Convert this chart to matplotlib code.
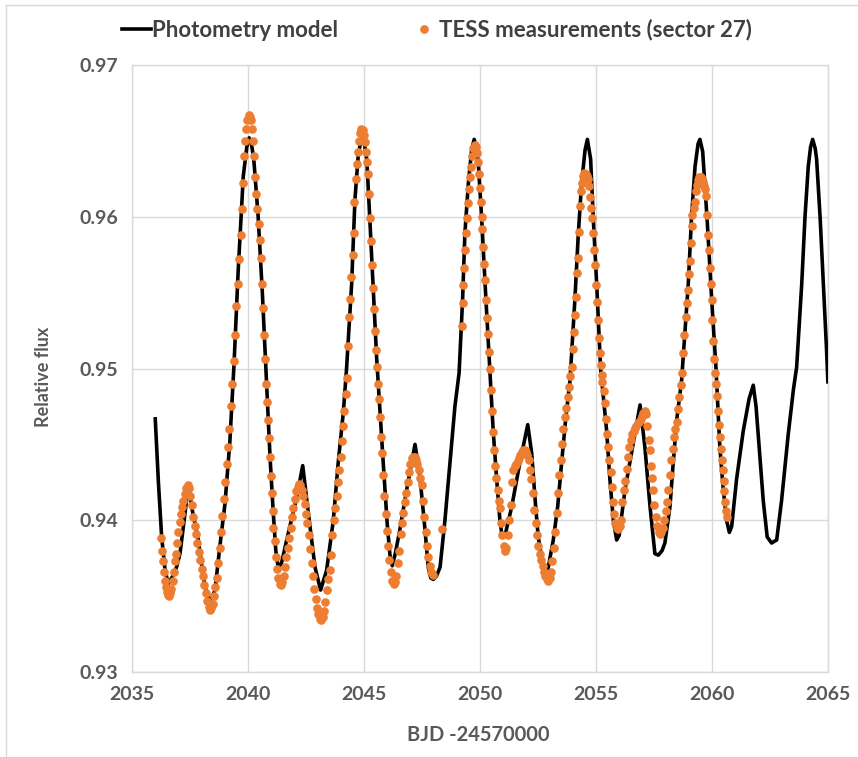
import matplotlib
matplotlib.use("Agg")
import matplotlib.pyplot as plt
from matplotlib.lines import Line2D

plt.rcParams['font.family'] = ['Lato', 'DejaVu Sans']
plt.rcParams['font.weight'] = 'bold'

# photometry model (black curve)
model_t = [2036.00, 2036.14, 2036.28, 2036.42, 2036.56, 2036.75, 2036.92, 2037.07,
           2037.25, 2037.43, 2037.62, 2037.86, 2038.00, 2038.15, 2038.33, 2038.45,
           2038.58, 2038.79, 2039.01, 2039.22, 2039.40, 2039.58, 2039.80, 2039.95,
           2040.05, 2040.15, 2040.25, 2040.44, 2040.62, 2040.79, 2040.95, 2041.09,
           2041.20, 2041.31, 2041.45, 2041.67, 2042.10, 2042.36, 2042.60, 2042.89,
           2043.13, 2043.39, 2043.68, 2043.89, 2044.11, 2044.25, 2044.47, 2044.61,
           2044.75, 2044.85, 2044.93, 2045.02, 2045.12, 2045.26, 2045.40, 2045.55,
           2045.83, 2046.00, 2046.12, 2046.22, 2046.35, 2046.55, 2046.84, 2047.20,
           2047.41, 2047.63, 2047.77, 2047.88, 2047.99, 2048.12, 2048.28, 2048.49,
           2048.71, 2048.92, 2049.10, 2049.25, 2049.35, 2049.50, 2049.64, 2049.75,
           2049.85, 2049.93, 2050.07, 2050.22, 2050.40, 2050.57, 2050.72, 2050.86,
           2050.96, 2051.08, 2051.37, 2051.72, 2052.06, 2052.23, 2052.37, 2052.51,
           2052.73, 2052.92, 2053.16, 2053.35, 2053.52, 2053.69, 2053.88, 2054.09,
           2054.24, 2054.38, 2054.53, 2054.63, 2054.77, 2054.88, 2055.03, 2055.20,
           2055.46, 2055.60, 2055.75, 2055.89, 2056.00, 2056.25, 2056.61, 2056.90,
           2057.11, 2057.33, 2057.54, 2057.69, 2057.85, 2057.97, 2058.19, 2058.33,
           2058.48, 2058.69, 2058.98, 2059.12, 2059.27, 2059.40, 2059.48, 2059.60,
           2059.80, 2059.99, 2060.17, 2060.34, 2060.49, 2060.63, 2060.75, 2060.85,
           2061.06, 2061.35, 2061.60, 2061.78, 2061.90, 2061.99, 2062.21, 2062.38,
           2062.57, 2062.79, 2063.00, 2063.29, 2063.51, 2063.65, 2063.87, 2064.01,
           2064.15, 2064.25, 2064.34, 2064.45, 2064.51, 2064.66, 2064.80, 2064.94,
           2065.00]
model_f = [0.9468, 0.9425, 0.9389, 0.9368, 0.9358, 0.9363, 0.9369, 0.9378,
           0.9400, 0.9423, 0.9405, 0.9387, 0.9371, 0.9356, 0.9347, 0.9349,
           0.9354, 0.9383, 0.9411, 0.9452, 0.9503, 0.9565, 0.9627, 0.9646,
           0.9652, 0.9648, 0.9638, 0.9600, 0.9550, 0.9495, 0.9442, 0.9405,
           0.9380, 0.9368, 0.9372, 0.9387, 0.9415, 0.9436, 0.9405, 0.9369,
           0.9354, 0.9367, 0.9400, 0.9438, 0.9471, 0.9500, 0.9556, 0.9611,
           0.9640, 0.9649, 0.9652, 0.9648, 0.9638, 0.9596, 0.9552, 0.9506,
           0.9438, 0.9398, 0.9377, 0.9370, 0.9378, 0.9394, 0.9420, 0.9450,
           0.9429, 0.9394, 0.9369, 0.9362, 0.9361, 0.9363, 0.9369, 0.9400,
           0.9438, 0.9475, 0.9497, 0.9545, 0.9589, 0.9622, 0.9644, 0.9651,
           0.9646, 0.9635, 0.9600, 0.9556, 0.9506, 0.9459, 0.9427, 0.9400,
           0.9389, 0.9390, 0.9409, 0.9438, 0.9463, 0.9444, 0.9415, 0.9389,
           0.9369, 0.9367, 0.9387, 0.9409, 0.9438, 0.9466, 0.9492, 0.9545,
           0.9589, 0.9622, 0.9644, 0.9651, 0.9638, 0.9600, 0.9556, 0.9500,
           0.9459, 0.9427, 0.9400, 0.9387, 0.9390, 0.9420, 0.9451, 0.9476,
           0.9448, 0.9409, 0.9378, 0.9377, 0.9380, 0.9385, 0.9409, 0.9438,
           0.9466, 0.9492, 0.9556, 0.9600, 0.9633, 0.9648, 0.9651, 0.9643,
           0.9596, 0.9545, 0.9501, 0.9448, 0.9420, 0.9400, 0.9392, 0.9396,
           0.9427, 0.9459, 0.9480, 0.9489, 0.9475, 0.9457, 0.9413, 0.9389,
           0.9385, 0.9387, 0.9413, 0.9457, 0.9486, 0.9501, 0.9556, 0.9600,
           0.9633, 0.9646, 0.9651, 0.9645, 0.9638, 0.9600, 0.9556, 0.9512,
           0.9490]

# TESS sector 27 measurements (orange dots), first orbit
tess_t1 = [2036.26, 2036.30, 2036.34, 2036.38, 2036.42, 2036.46, 2036.50, 2036.55,
           2036.60, 2036.65, 2036.70, 2036.75, 2036.80, 2036.85, 2036.90, 2036.95,
           2037.00, 2037.05, 2037.10, 2037.16, 2037.22, 2037.28, 2037.34, 2037.40,
           2037.46, 2037.52, 2037.58, 2037.64, 2037.70, 2037.76, 2037.82, 2037.88,
           2037.94, 2038.00, 2038.06, 2038.12, 2038.18, 2038.24, 2038.30, 2038.36,
           2038.42, 2038.48, 2038.54, 2038.60, 2038.66, 2038.72, 2038.78, 2038.84,
           2038.90, 2038.96, 2039.02, 2039.08, 2039.14, 2039.20, 2039.26, 2039.32,
           2039.38, 2039.44, 2039.50, 2039.56, 2039.62, 2039.68, 2039.74, 2039.78,
           2039.83, 2039.88, 2039.93, 2039.98, 2040.03, 2040.07, 2040.11, 2040.16,
           2040.21, 2040.26, 2040.31, 2040.36, 2040.41, 2040.46, 2040.51, 2040.56,
           2040.61, 2040.65, 2040.69, 2040.73, 2040.76, 2040.80, 2040.85, 2040.89,
           2040.94, 2040.98, 2041.02, 2041.06, 2041.10, 2041.15, 2041.20, 2041.25,
           2041.30, 2041.36, 2041.42, 2041.48, 2041.54, 2041.60, 2041.66, 2041.72,
           2041.78, 2041.84, 2041.90, 2041.96, 2042.02, 2042.08, 2042.14, 2042.20,
           2042.26, 2042.32, 2042.38, 2042.44, 2042.50, 2042.56, 2042.62, 2042.68,
           2042.74, 2042.80, 2042.86, 2042.92, 2042.98, 2043.04, 2043.10, 2043.16,
           2043.22, 2043.28, 2043.34, 2043.40, 2043.46, 2043.52, 2043.58, 2043.64,
           2043.70, 2043.76, 2043.82, 2043.88, 2043.94, 2044.00, 2044.06, 2044.11,
           2044.16, 2044.21, 2044.26, 2044.31, 2044.36, 2044.41, 2044.46, 2044.51,
           2044.55, 2044.59, 2044.64, 2044.69, 2044.74, 2044.79, 2044.84, 2044.89,
           2044.94, 2044.99, 2045.04, 2045.08, 2045.13, 2045.18, 2045.22, 2045.26,
           2045.30, 2045.34, 2045.38, 2045.43, 2045.48, 2045.53, 2045.58, 2045.62,
           2045.66, 2045.70, 2045.74, 2045.78, 2045.83, 2045.88, 2045.93, 2045.98,
           2046.04, 2046.10, 2046.16, 2046.22, 2046.28, 2046.34, 2046.40, 2046.46,
           2046.52, 2046.58, 2046.64, 2046.70, 2046.76, 2046.82, 2046.88, 2046.94,
           2047.00, 2047.06, 2047.12, 2047.18, 2047.24, 2047.30, 2047.36, 2047.42,
           2047.48, 2047.54, 2047.60, 2047.66, 2047.72, 2047.78, 2047.84, 2047.90,
           2047.96, 2048.35]
tess_f1 = [0.9388, 0.9380, 0.9373, 0.9366, 0.9360, 0.9356, 0.9353, 0.9351,
           0.9350, 0.9352, 0.9355, 0.9360, 0.9366, 0.9373, 0.9378, 0.9385,
           0.9392, 0.9399, 0.9404, 0.9409, 0.9413, 0.9417, 0.9421, 0.9423,
           0.9421, 0.9416, 0.9410, 0.9402, 0.9396, 0.9391, 0.9385, 0.9379,
           0.9374, 0.9368, 0.9363, 0.9357, 0.9352, 0.9347, 0.9343, 0.9341,
           0.9342, 0.9345, 0.9350, 0.9356, 0.9362, 0.9372, 0.9382, 0.9392,
           0.9403, 0.9414, 0.9425, 0.9437, 0.9448, 0.9460, 0.9475, 0.9490,
           0.9505, 0.9522, 0.9541, 0.9556, 0.9572, 0.9588, 0.9605, 0.9622,
           0.9640, 0.9650, 0.9658, 0.9664, 0.9667, 0.9666, 0.9664, 0.9658,
           0.9650, 0.9640, 0.9626, 0.9615, 0.9605, 0.9595, 0.9585, 0.9573,
           0.9556, 0.9540, 0.9522, 0.9506, 0.9490, 0.9478, 0.9466, 0.9454,
           0.9442, 0.9429, 0.9418, 0.9406, 0.9395, 0.9386, 0.9376, 0.9368,
           0.9362, 0.9358, 0.9357, 0.9359, 0.9363, 0.9369, 0.9376, 0.9382,
           0.9388, 0.9395, 0.9402, 0.9408, 0.9414, 0.9419, 0.9422, 0.9424,
           0.9423, 0.9420, 0.9416, 0.9411, 0.9404, 0.9398, 0.9390, 0.9381,
           0.9372, 0.9363, 0.9355, 0.9348, 0.9342, 0.9338, 0.9335, 0.9334,
           0.9336, 0.9340, 0.9346, 0.9354, 0.9361, 0.9367, 0.9377, 0.9390,
           0.9400, 0.9408, 0.9416, 0.9425, 0.9433, 0.9442, 0.9452, 0.9462,
           0.9472, 0.9483, 0.9494, 0.9515, 0.9534, 0.9546, 0.9560, 0.9575,
           0.9589, 0.9610, 0.9625, 0.9635, 0.9643, 0.9650, 0.9655, 0.9658,
           0.9657, 0.9654, 0.9649, 0.9643, 0.9636, 0.9628, 0.9615, 0.9599,
           0.9584, 0.9568, 0.9553, 0.9539, 0.9525, 0.9512, 0.9501, 0.9490,
           0.9480, 0.9468, 0.9455, 0.9444, 0.9430, 0.9416, 0.9404, 0.9393,
           0.9383, 0.9374, 0.9366, 0.9360, 0.9358, 0.9359, 0.9363, 0.9372,
           0.9380, 0.9391, 0.9398, 0.9405, 0.9412, 0.9418, 0.9425, 0.9432,
           0.9437, 0.9441, 0.9442, 0.9442, 0.9440, 0.9437, 0.9433, 0.9428,
           0.9423, 0.9413, 0.9402, 0.9392, 0.9383, 0.9376, 0.9370, 0.9366,
           0.9364, 0.9394]

# second orbit
tess_t2 = [2049.21, 2049.25, 2049.29, 2049.33, 2049.37, 2049.40, 2049.43, 2049.47,
           2049.52, 2049.57, 2049.62, 2049.67, 2049.72, 2049.77, 2049.82, 2049.87,
           2049.92, 2049.96, 2049.99, 2050.03, 2050.07, 2050.10, 2050.14, 2050.18,
           2050.22, 2050.26, 2050.30, 2050.35, 2050.40, 2050.44, 2050.48, 2050.52,
           2050.56, 2050.61, 2050.66, 2050.71, 2050.76, 2050.81, 2050.86, 2050.91,
           2050.96, 2051.02, 2051.08, 2051.14, 2051.20, 2051.26, 2051.32, 2051.38,
           2051.44, 2051.50, 2051.56, 2051.62, 2051.68, 2051.74, 2051.80, 2051.86,
           2051.92, 2051.98, 2052.04, 2052.10, 2052.16, 2052.22, 2052.28, 2052.34,
           2052.40, 2052.46, 2052.52, 2052.58, 2052.64, 2052.70, 2052.76, 2052.82,
           2052.88, 2052.94, 2053.00, 2053.06, 2053.12, 2053.18, 2053.24, 2053.30,
           2053.36, 2053.42, 2053.48, 2053.54, 2053.60, 2053.66, 2053.72, 2053.78,
           2053.84, 2053.90, 2053.95, 2054.00, 2054.05, 2054.10, 2054.14, 2054.18,
           2054.22, 2054.26, 2054.30, 2054.35, 2054.40, 2054.45, 2054.50, 2054.55,
           2054.60, 2054.65, 2054.70, 2054.75, 2054.80, 2054.84, 2054.88, 2054.92,
           2054.96, 2055.00, 2055.04, 2055.08, 2055.12, 2055.16, 2055.20, 2055.24,
           2055.28, 2055.33, 2055.38, 2055.43, 2055.48, 2055.53, 2055.58, 2055.63,
           2055.68, 2055.73, 2055.78, 2055.84, 2055.90, 2055.96, 2056.02, 2056.08,
           2056.14, 2056.20, 2056.26, 2056.32, 2056.38, 2056.44, 2056.50, 2056.56,
           2056.62, 2056.68, 2056.74, 2056.80, 2056.86, 2056.92, 2056.98, 2057.04,
           2057.10, 2057.16, 2057.22, 2057.27, 2057.32, 2057.37, 2057.42, 2057.47,
           2057.52, 2057.58, 2057.64, 2057.70, 2057.76, 2057.82, 2057.88, 2057.94,
           2058.00, 2058.06, 2058.12, 2058.18, 2058.24, 2058.30, 2058.36, 2058.42,
           2058.48, 2058.54, 2058.60, 2058.66, 2058.71, 2058.76, 2058.81, 2058.86,
           2058.91, 2058.96, 2059.01, 2059.05, 2059.09, 2059.12, 2059.16, 2059.21,
           2059.26, 2059.31, 2059.36, 2059.41, 2059.46, 2059.51, 2059.56, 2059.61,
           2059.66, 2059.71, 2059.76, 2059.79, 2059.82, 2059.86, 2059.90, 2059.94,
           2059.98, 2060.02, 2060.06, 2060.10, 2060.14, 2060.18, 2060.22, 2060.26,
           2060.30, 2060.34, 2060.38, 2060.42, 2060.46, 2060.50, 2060.54, 2060.58,
           2060.62, 2060.66]
tess_f2 = [0.9528, 0.9543, 0.9555, 0.9566, 0.9578, 0.9589, 0.9599, 0.9609,
           0.9618, 0.9626, 0.9633, 0.9640, 0.9645, 0.9647, 0.9646, 0.9642,
           0.9636, 0.9628, 0.9619, 0.9610, 0.9600, 0.9592, 0.9580, 0.9569,
           0.9558, 0.9545, 0.9533, 0.9523, 0.9511, 0.9500, 0.9486, 0.9472,
           0.9458, 0.9446, 0.9436, 0.9428, 0.9420, 0.9413, 0.9408, 0.9398,
           0.9390, 0.9383, 0.9380, 0.9382, 0.9390, 0.9400, 0.9410, 0.9425,
           0.9433, 0.9436, 0.9437, 0.9439, 0.9441, 0.9443, 0.9445, 0.9446,
           0.9446, 0.9445, 0.9443, 0.9440, 0.9433, 0.9427, 0.9418, 0.9407,
           0.9398, 0.9390, 0.9383, 0.9378, 0.9374, 0.9370, 0.9366, 0.9363,
           0.9361, 0.9360, 0.9362, 0.9366, 0.9373, 0.9382, 0.9392, 0.9405,
           0.9418, 0.9430, 0.9440, 0.9450, 0.9460, 0.9468, 0.9474, 0.9481,
           0.9488, 0.9495, 0.9501, 0.9513, 0.9524, 0.9535, 0.9547, 0.9563,
           0.9573, 0.9590, 0.9607, 0.9617, 0.9622, 0.9627, 0.9629, 0.9628,
           0.9627, 0.9625, 0.9620, 0.9613, 0.9606, 0.9599, 0.9589, 0.9578,
           0.9568, 0.9555, 0.9544, 0.9532, 0.9520, 0.9510, 0.9502, 0.9496,
           0.9491, 0.9485, 0.9477, 0.9467, 0.9457, 0.9448, 0.9440, 0.9432,
           0.9422, 0.9412, 0.9404, 0.9398, 0.9395, 0.9394, 0.9396, 0.9400,
           0.9412, 0.9420, 0.9426, 0.9434, 0.9442, 0.9448, 0.9453, 0.9457,
           0.9459, 0.9461, 0.9462, 0.9464, 0.9465, 0.9467, 0.9469, 0.9471,
           0.9472, 0.9470, 0.9462, 0.9453, 0.9446, 0.9436, 0.9428, 0.9420,
           0.9410, 0.9402, 0.9396, 0.9392, 0.9391, 0.9392, 0.9395, 0.9400,
           0.9406, 0.9412, 0.9420, 0.9430, 0.9440, 0.9447, 0.9455, 0.9460,
           0.9465, 0.9473, 0.9481, 0.9489, 0.9497, 0.9510, 0.9522, 0.9534,
           0.9543, 0.9552, 0.9562, 0.9571, 0.9583, 0.9594, 0.9601, 0.9606,
           0.9610, 0.9617, 0.9621, 0.9624, 0.9626, 0.9626, 0.9625, 0.9623,
           0.9620, 0.9618, 0.9614, 0.9601, 0.9588, 0.9578, 0.9566, 0.9556,
           0.9545, 0.9532, 0.9518, 0.9506, 0.9497, 0.9490, 0.9482, 0.9472,
           0.9463, 0.9455, 0.9447, 0.9440, 0.9433, 0.9426, 0.9419, 0.9412,
           0.9406, 0.9402]

assert len(model_t) == len(model_f)
assert len(tess_t1) == len(tess_f1)
assert len(tess_t2) == len(tess_f2)

x_ticks = [2035, 2040, 2045, 2050, 2055, 2060, 2065]
y_ticks = [0.93, 0.94, 0.95, 0.96, 0.97]

orange = '#ED7D31'
grid_c = '#D9D9D9'
text_c = '#595959'

fig = plt.figure(figsize=(8.58, 7.57), dpi=100)
ax = fig.add_axes([0.1538, 0.1123, 0.8112, 0.8018])

ax.plot(model_t, model_f, color='black', lw=2.6, zorder=3,
        solid_joinstyle='round', solid_capstyle='butt')
ax.plot(tess_t1 + tess_t2, tess_f1 + tess_f2, ls='none', marker='o', ms=5.2,
        color=orange, mec=orange, zorder=4)

ax.set_xlim(2035, 2065)
ax.set_ylim(0.93, 0.97)
ax.set_xticks(x_ticks)
ax.set_yticks(y_ticks)
ax.set_yticklabels(['%.2f' % v for v in y_ticks])
ax.grid(True, color=grid_c, lw=1)
ax.set_axisbelow(True)
for s in ax.spines.values():
    s.set_color(grid_c)
    s.set_linewidth(1)
ax.tick_params(length=0, labelsize=14, labelcolor=text_c, pad=10)
for lab in ax.get_xticklabels() + ax.get_yticklabels():
    lab.set_fontweight('bold')

ax.set_xlabel('BJD -24570000', fontsize=14.5, color=text_c, fontweight='bold')
ax.set_ylabel('Relative flux', fontsize=13, color=text_c, fontweight='bold')
ax.xaxis.set_label_coords(0.497, -0.087)
ax.yaxis.set_label_coords(-0.115, 0.486)

handles = [Line2D([], [], color='black', lw=2.6),
           Line2D([], [], ls='none', marker='o', ms=5.2, color=orange)]
fig.legend(handles, ['Photometry model', 'TESS measurements (sector 27)'],
           loc='center', bbox_to_anchor=(437 / 858, 1 - 30 / 757), ncol=2,
           frameon=False, handlelength=1.3, handletextpad=0.05, columnspacing=3.2,
           prop={'size': 16, 'weight': 'bold'}, labelcolor='#404040')

# thin outer frame of the original chart area
fig.add_artist(Line2D([0.007, 0.007], [0.0, 0.993], color=grid_c, lw=1,
                      transform=fig.transFigure))
fig.add_artist(Line2D([0.007, 1.0], [0.993, 0.993], color=grid_c, lw=1,
                      transform=fig.transFigure))

fig.savefig('out.png', dpi=100)
